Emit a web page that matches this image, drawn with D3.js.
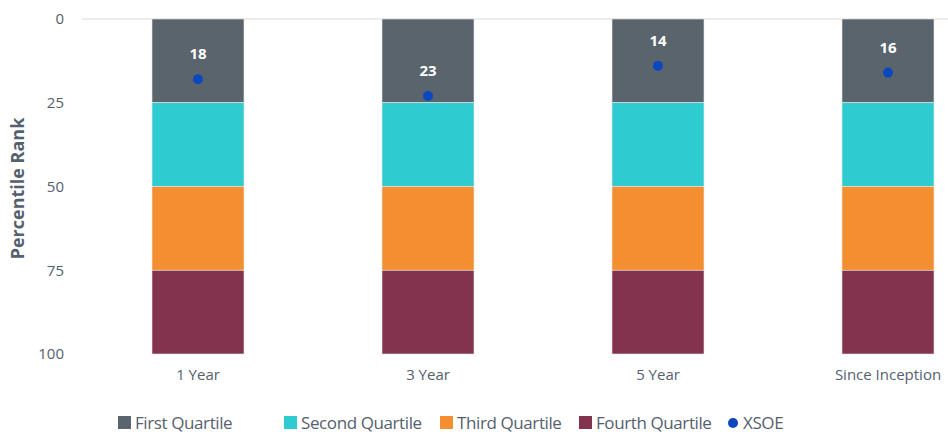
<!DOCTYPE html>
<html>
<head>
<meta charset="utf-8">
<script src="https://cdn.jsdelivr.net/npm/d3@7"></script>
<style>
  body { margin: 0; background: #fff; }
  text { font-family: "Open Sans", "Liberation Sans", sans-serif; }
</style>
</head>
<body>
<div id="chart"></div>
<script>
const categories = ['1 Year', '3 Year', '5 Year', 'Since Inception'];
const quartiles = ['First Quartile', 'Second Quartile', 'Third Quartile', 'Fourth Quartile'];
const quartileBounds = [[0, 25], [25, 50], [50, 75], [75, 100]];
const xsoeRank = [18, 23, 14, 16];
const yTicks = [0, 25, 50, 75, 100];

const colors = ['#5A646D', '#2ECBD1', '#F48F31', '#83334E'];
const dotColor = '#0B48BF';
const textColor = '#55606e';

const width = 948;
const height = 434;

const svg = d3.select('#chart').append('svg')
  .attr('width', width)
  .attr('height', height);

const x = d3.scaleBand()
  .domain(categories)
  .range([83, 1003])
  .paddingInner(0.6)
  .paddingOuter(0.3);

const y = d3.scaleLinear()
  .domain([0, 100])
  .range([19, 354]);

// top gridline
svg.append('line')
  .attr('x1', 82).attr('x2', width)
  .attr('y1', y(0)).attr('y2', y(0))
  .style('stroke', '#d9d9d9')
  .style('stroke-width', 1);

// y axis labels
const yAxis = d3.axisLeft(y).tickValues(yTicks).tickSize(0).tickPadding(0);
const yg = svg.append('g')
  .attr('transform', 'translate(64,0)')
  .call(yAxis);
yg.select('.domain').remove();
yg.selectAll('text')
  .style('font-size', '15px')
  .style('fill', textColor);

svg.append('text')
  .attr('transform', `translate(24,${(y(0) + y(100)) / 2 + 2}) rotate(-90)`)
  .style('text-anchor', 'middle')
  .style('font-size', '18px')
  .style('font-weight', 'bold')
  .style('fill', textColor)
  .text('Percentile Rank');

// stacked quartile bars
const segs = [];
categories.forEach(c => {
  quartileBounds.forEach((b, i) => segs.push({ cat: c, lo: b[0], hi: b[1], i }));
});

svg.selectAll('.seg')
  .data(segs)
  .enter().append('rect')
  .attr('class', 'seg')
  .attr('x', d => x(d.cat))
  .attr('y', d => y(d.lo))
  .attr('width', x.bandwidth())
  .attr('height', d => y(d.hi) - y(d.lo))
  .style('fill', d => colors[d.i])
  .style('stroke', '#e8e8e8')
  .style('stroke-width', 0.6);

// x axis labels
const xAxis = d3.axisBottom(x).tickSize(0).tickPadding(0);
const xg = svg.append('g')
  .attr('transform', `translate(0,${y(100) + 15})`)
  .call(xAxis);
xg.select('.domain').remove();
xg.selectAll('text')
  .attr('dy', '0.71em')
  .style('font-size', '15px')
  .style('fill', textColor);

// XSOE points
svg.selectAll('.dot')
  .data(xsoeRank)
  .enter().append('circle')
  .attr('class', 'dot')
  .attr('cx', (d, i) => x(categories[i]) + x.bandwidth() / 2)
  .attr('cy', d => y(d))
  .attr('r', 5)
  .style('fill', dotColor);

svg.selectAll('.val')
  .data(xsoeRank)
  .enter().append('text')
  .attr('class', 'val')
  .attr('x', (d, i) => x(categories[i]) + x.bandwidth() / 2)
  .attr('y', d => y(d) - 20)
  .style('text-anchor', 'middle')
  .style('font-size', '15px')
  .style('font-weight', 'bold')
  .style('fill', '#ffffff')
  .text(d => d);

// legend
const legendItems = quartiles.map((q, i) => ({ name: q, color: colors[i], shape: 'rect' }))
  .concat([{ name: 'XSOE', color: dotColor, shape: 'circle' }]);
const legendX = [118, 284, 440, 579, 727];
const ly = 423;

const lg = svg.selectAll('.legend')
  .data(legendItems)
  .enter().append('g')
  .attr('class', 'legend')
  .attr('transform', (d, i) => `translate(${legendX[i]},${ly})`);

lg.filter(d => d.shape === 'rect').append('rect')
  .attr('x', 0).attr('y', -7)
  .attr('width', 13).attr('height', 13)
  .style('fill', d => d.color);

lg.filter(d => d.shape === 'circle').append('circle')
  .attr('cx', 6).attr('cy', 0)
  .attr('r', 5)
  .style('fill', d => d.color);

lg.append('text')
  .attr('x', d => d.shape === 'rect' ? 17 : 16)
  .attr('y', 0)
  .attr('dy', '0.35em')
  .style('font-size', '17px')
  .style('letter-spacing', '-0.4px')
  .style('fill', textColor)
  .text(d => d.name);
</script>
</body>
</html>
